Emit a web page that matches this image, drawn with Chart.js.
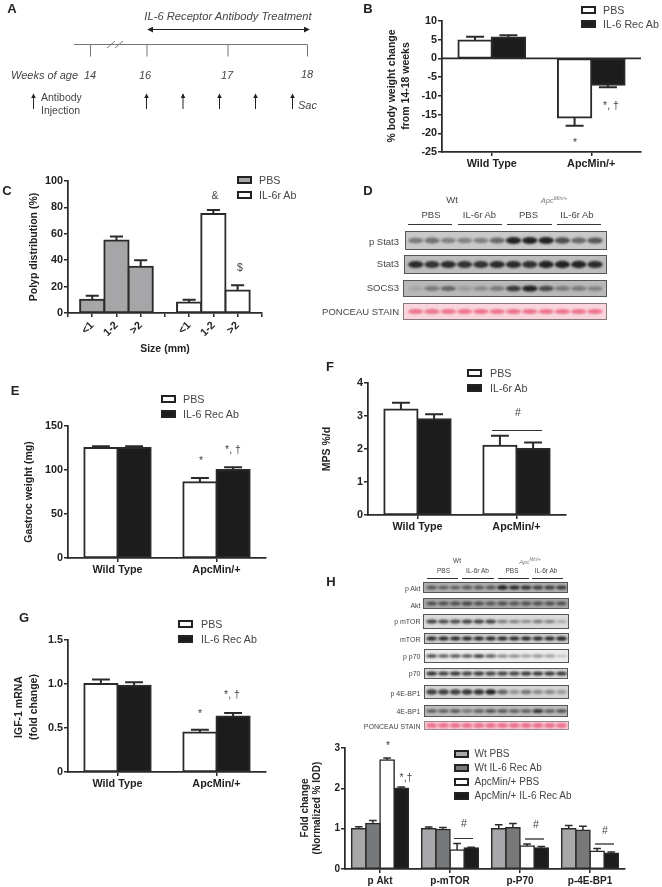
<!DOCTYPE html>
<html>
<head>
<meta charset="utf-8">
<title>IL-6 receptor antibody figure</title>
<script src="https://cdn.jsdelivr.net/npm/chart.js@4/dist/chart.umd.min.js"></script>
<style>
html, body { margin: 0; background: #fff; }
#page { position: relative; width: 662px; height: 887px; overflow: hidden; background: #fff;
  font-family: "Liberation Sans", Arial, sans-serif; color: #444; filter: blur(0.45px); }
#page canvas { position: absolute; }
#page svg { position: absolute; left: 0; top: 0; }
.t { position: absolute; white-space: nowrap; line-height: 1; }
.swatch { position: absolute; box-sizing: border-box; width: 15px; height: 8px; border: 2px solid #222; }
.rule { position: absolute; height: 1.5px; background: #333; }
</style>
</head>
<body>
<div id="page">
<svg width="662" height="120">
  <defs>
    <marker id="head" viewBox="0 0 8 8" refX="7" refY="4" markerWidth="5" markerHeight="5" orient="auto-start-reverse">
      <path d="M0 0 L8 4 L0 8 Z" fill="#222"/>
    </marker>
  </defs>
  <g stroke="#777" stroke-width="1" fill="none">
    <path d="M74 44.5 H307.5"/>
    <path d="M90.5 44.5 V56.5 M147 44.5 V56.5 M228 44.5 V56.5 M307.5 44.5 V56.5"/>
    <path d="M107 48 L115 41 M115 48 L123 41"/>
  </g>
  <path d="M148 29.5 H309" stroke="#222" stroke-width="1.2" marker-start="url(#head)" marker-end="url(#head)"/>
  <g stroke="#222" stroke-width="1" marker-start="none">
    <path d="M33.5 109 V94" marker-end="url(#head)"/>
    <path d="M146.5 109 V94" marker-end="url(#head)"/>
    <path d="M183 109 V94" marker-end="url(#head)"/>
    <path d="M219.5 109 V94" marker-end="url(#head)"/>
    <path d="M255.5 109 V94" marker-end="url(#head)"/>
    <path d="M292.5 109 V94" marker-end="url(#head)"/>
  </g>
</svg>
</div>
<script>
// panel B
const groups = ['Wild Type', 'ApcMin/+'];
const bodyPBS = [4.8, -15.8];
const bodyPBSErr = [5.8, -18];
const bodyAb = [5.6, -7];
const bodyAbErr = [6.2, -7.7];
// panel C
const sizes = ['', '<1', '1-2', '>2', '', '<1', '1-2', '>2', ''];
const polypPBS = [null, 10, 55, 35, null, null, null, null, null];
const polypPBSErr = [null, 13, 58, 40, null, null, null, null, null];
const polypAb = [null, null, null, null, null, 8, 75, 17, null];
const polypAbErr = [null, null, null, null, null, 10, 78, 21, null];
// panel E
const gastrocPBS = [125, 86];
const gastrocPBSErr = [127, 91];
const gastrocAb = [125, 100];
const gastrocAbErr = [127, 103];
// panel F
const mpsPBS = [3.2, 2.1];
const mpsPBSErr = [3.4, 2.4];
const mpsAb = [2.9, 2.0];
const mpsAbErr = [3.05, 2.2];
// panel G
const igfPBS = [1.0, 0.45];
const igfPBSErr = [1.05, 0.48];
const igfAb = [0.98, 0.63];
const igfAbErr = [1.02, 0.67];
// panel H
const proteins = ['p Akt', 'p-mTOR', 'p-P70', 'p-4E-BP1'];
const foldWtPBS = [1.0, 1.0, 1.0, 1.0];
const foldWtPBSErr = [1.05, 1.04, 1.1, 1.08];
const foldWtAb = [1.13, 0.98, 1.02, 0.96];
const foldWtAbErr = [1.2, 1.03, 1.13, 1.06];
const foldApcPBS = [2.7, 0.47, 0.57, 0.44];
const foldApcPBSErr = [2.75, 0.63, 0.62, 0.51];
const foldApcAb = [2.0, 0.52, 0.52, 0.39];
const foldApcAbErr = [2.03, 0.54, 0.56, 0.42];
// blot band strength per lane
const dStat3p = [.45, .5, .4, .4, .4, .55, .95, .95, .95, .7, .55, .65];
const dStat3 = [.9, .85, .9, .85, .85, .9, .9, .85, .95, .95, .95, .9];
const dSocs3 = [.12, .4, .55, .2, .3, .4, .8, .95, .7, .4, .4, .35];
const dPonceau = [.75, .75, .75, .75, .75, .75, .75, .75, .75, .75, .75, .75];
const hAktP = [.6, .55, .55, .6, .6, .6, .95, .9, .85, .75, .75, .8];
const hAkt = [.65, .65, .65, .7, .65, .6, .65, .6, .65, .65, .65, .65];
const hMtorP = [.8, .75, .75, .8, .8, .8, .5, .45, .4, .5, .45, .25];
const hMtor = [.95, .95, .95, .95, .95, .95, .95, .95, .95, .95, .95, .98];
const hP70P = [.8, .7, .75, .75, .85, .7, .5, .5, .4, .45, .4, .2];
const hP70 = [.9, .8, .85, .8, .85, .8, .8, .8, .85, .85, .85, .85];
const hEbpP = [.8, .8, .8, .85, .85, .95, .6, .35, .5, .4, .4, .3];
const hEbp = [.6, .6, .65, .45, .6, .7, .65, .6, .6, .85, .6, .7];

const page = document.getElementById('page');
const dark = '#2a2a2a';

function text(str, x, y, o) {
    o = o || {};
    const el = document.createElement('div');
    el.className = 't';
    if (o.html) el.innerHTML = str; else el.textContent = str;
    el.style.left = x + 'px';
    el.style.top = y + 'px';
    el.style.fontSize = (o.size || 10.5) + 'px';
    if (o.bold) el.style.fontWeight = 'bold';
    if (o.italic) el.style.fontStyle = 'italic';
    el.style.color = o.color || (o.bold ? '#222' : '#444');
    const ax = o.align === 'l' ? '0' : o.align === 'r' ? '-100%' : '-50%';
    el.style.transform = 'translate(' + ax + ',-50%)' + (o.rotate ? ' rotate(-90deg)' : '');
    page.appendChild(el);
}

function legend(x, ys, textX, items, size) {
    items.forEach((item, i) => {
        const s = document.createElement('div');
        s.className = 'swatch';
        s.style.left = x + 'px';
        s.style.top = (ys[i] - 4) + 'px';
        s.style.background = item[1];
        page.appendChild(s);
        text(item[0], textX, ys[i], { align: 'l', size: size });
    });
}

function rule(x0, x1, y, color) {
    const r = document.createElement('div');
    r.className = 'rule';
    r.style.left = x0 + 'px';
    r.style.width = (x1 - x0) + 'px';
    r.style.top = y + 'px';
    if (color) r.style.background = color;
    page.appendChild(r);
}

// error bars go from the bar top to the value in dataset.err
const errorBars = {
    id: 'errorBars',
    afterDatasetsDraw(chart) {
        const ctx = chart.ctx;
        const yScale = chart.scales.y;
        chart.data.datasets.forEach((ds, d) => {
            chart.getDatasetMeta(d).data.forEach((bar, i) => {
                if (ds.data[i] === null) return;
                const y0 = yScale.getPixelForValue(ds.data[i]);
                const y1 = yScale.getPixelForValue(ds.err[i]);
                const cap = bar.width * 0.27;
                ctx.save();
                ctx.strokeStyle = dark;
                ctx.lineWidth = ds.borderWidth;
                ctx.beginPath();
                ctx.moveTo(bar.x, y0);
                ctx.lineTo(bar.x, y1);
                ctx.moveTo(bar.x - cap, y1);
                ctx.lineTo(bar.x + cap, y1);
                ctx.stroke();
                ctx.restore();
            });
        });
    }
};

// the horizontal line at 0 in panel B
const zeroLine = {
    id: 'zeroLine',
    afterDatasetsDraw(chart) {
        if (chart.scales.y.min >= 0) return;
        const ctx = chart.ctx;
        const y = chart.scales.y.getPixelForValue(0);
        ctx.save();
        ctx.strokeStyle = dark;
        ctx.lineWidth = 1.75;
        ctx.beginPath();
        ctx.moveTo(chart.chartArea.left, y);
        ctx.lineTo(chart.chartArea.right, y);
        ctx.stroke();
        ctx.restore();
    }
};

function series(label, data, err, color, lw) {
    return {
        label: label, data: data, err: err,
        backgroundColor: color, borderColor: dark,
        borderWidth: lw || 2, borderSkipped: false, inflateAmount: (lw || 2) / 2
    };
}

function barChart(plot, labels, datasets, y, o) {
    o = o || {};
    const gutterL = 36, gutterT = 8, gutterR = 8, gutterB = o.gutterB || 22;
    const canvas = document.createElement('canvas');
    canvas.width = plot[2] - plot[0] + gutterL + gutterR;
    canvas.height = plot[3] - plot[1] + gutterT + gutterB;
    canvas.style.left = (plot[0] - gutterL) + 'px';
    canvas.style.top = (plot[1] - gutterT) + 'px';
    page.appendChild(canvas);
    const size = o.fontSize || 10.8;
    return new Chart(canvas.getContext('2d'), {
        type: 'bar',
        data: { labels: labels, datasets: datasets },
        plugins: [zeroLine, errorBars],
        options: {
            responsive: false,
            animation: false,
            events: [],
            devicePixelRatio: 1,
            layout: { padding: { top: gutterT, right: gutterR, left: 0, bottom: 0 } },
            plugins: { legend: { display: false }, tooltip: { enabled: false } },
            datasets: { bar: { categoryPercentage: o.catPct || 0.67, barPercentage: 1 } },
            scales: {
                x: {
                    stacked: !!o.stacked,
                    offset: o.offset !== false,
                    afterFit: s => { s.height = gutterB; },
                    border: { color: dark, width: 1.75 },
                    grid: { offset: false, drawOnChartArea: false, color: dark, lineWidth: 1.5, tickLength: 4 },
                    ticks: {
                        autoSkip: false, padding: 2, color: '#222',
                        maxRotation: o.rotate || 0, minRotation: o.rotate || 0,
                        font: { family: 'Liberation Sans', weight: 'bold', size: size }
                    }
                },
                y: {
                    stacked: !!o.stacked,
                    min: y[0], max: y[1],
                    afterFit: s => { s.width = gutterL; },
                    border: { color: dark, width: 1.75 },
                    grid: { drawOnChartArea: false, color: dark, lineWidth: 1.5, tickLength: 4 },
                    ticks: {
                        stepSize: y[2], padding: 1, color: '#222',
                        font: { family: 'Liberation Sans', weight: 'bold', size: size }
                    }
                }
            }
        }
    });
}

/* Panel B */
barChart([442, 21, 641, 152], groups, [
    series('PBS', bodyPBS, bodyPBSErr, '#fff'),
    series('IL-6 Rec Ab', bodyAb, bodyAbErr, '#1c1c1c')
], [-25, 10, 5]);
/* Panel C */
barChart([68, 181, 265, 313], sizes, [
    series('PBS', polypPBS, polypPBSErr, '#a6a6a8'),
    series('IL-6r Ab', polypAb, polypAbErr, '#fff')
], [0, 100, 20], { stacked: true, offset: false, catPct: 1, rotate: 45, gutterB: 34 });
/* Panel E */
barChart([68, 426, 266, 558], groups, [
    series('PBS', gastrocPBS, gastrocPBSErr, '#fff'),
    series('IL-6 Rec Ab', gastrocAb, gastrocAbErr, '#1c1c1c')
], [0, 150, 50]);
/* Panel F */
barChart([368, 383, 566, 515], groups, [
    series('PBS', mpsPBS, mpsPBSErr, '#fff'),
    series('IL-6r Ab', mpsAb, mpsAbErr, '#1c1c1c')
], [0, 4, 1]);
/* Panel G */
barChart([68, 640, 266, 772], groups, [
    series('PBS', igfPBS, igfPBSErr, '#fff'),
    series('IL-6 Rec Ab', igfAb, igfAbErr, '#1c1c1c')
], [0, 1.5, 0.5]);
/* Panel H */
barChart([345, 748, 625, 869], proteins, [
    series('Wt PBS', foldWtPBS, foldWtPBSErr, '#a8a8aa', 1.5),
    series('Wt IL-6 Rec Ab', foldWtAb, foldWtAbErr, '#77787a', 1.5),
    series('ApcMin/+ PBS', foldApcPBS, foldApcPBSErr, '#fff', 1.5),
    series('ApcMin/+ IL-6 Rec Ab', foldApcAb, foldApcAbErr, '#1c1c1c', 1.5)
], [0, 3, 1], { catPct: 0.81, fontSize: 10 });

/* Blots, not data charts: plain canvas with blurred bands */
const blotCanvas = document.createElement('canvas');
blotCanvas.width = 662;
blotCanvas.height = 887;
blotCanvas.style.left = '0';
blotCanvas.style.top = '0';
page.appendChild(blotCanvas);
const bctx = blotCanvas.getContext('2d');

function blot(x0, x1, y0, y1, bands, lane0, laneStep, o) {
    o = o || {};
    bctx.fillStyle = o.bg || '#cfcfcf';
    bctx.fillRect(x0, y0, x1 - x0, y1 - y0);
    bctx.save();
    bctx.beginPath();
    bctx.rect(x0, y0, x1 - x0, y1 - y0);
    bctx.clip();
    bctx.filter = 'blur(' + (o.blur || 1) + 'px)';
    bands.forEach((b, i) => {
        const cx = lane0 + i * laneStep;
        const cy = (y0 + y1) / 2 + (o.dy || 0);
        bctx.fillStyle = o.pink ? 'rgba(232,80,115,' + b + ')' : 'rgba(25,25,28,' + b + ')';
        bctx.beginPath();
        bctx.ellipse(cx, cy, laneStep * 0.47, (o.h || 3) * (0.7 + b * 0.4), 0, 0, Math.PI * 2);
        bctx.fill();
    });
    bctx.restore();
    bctx.strokeStyle = o.edge || '#555';
    bctx.lineWidth = 1;
    bctx.strokeRect(x0 + 0.5, y0 + 0.5, x1 - x0 - 1, y1 - y0 - 1);
}

blot(405, 607, 231, 250, dStat3p, 415.7, 16.3, { bg: '#c9c9c9', h: 3.2 });
blot(404, 607, 255, 274, dStat3, 415.7, 16.3, { bg: '#bdbdbd', h: 3.4 });
blot(403, 607, 280, 297, dSocs3, 415.7, 16.3, { bg: '#b8b8b8', h: 2.8 });
blot(403, 607, 303, 320, dPonceau, 415.7, 16.3, { bg: '#f9d6dd', pink: true, h: 2.4, edge: '#8a7a7c' });

blot(423, 568, 582, 593, hAktP, 431.7, 11.8, { bg: '#b0b0b0', h: 2 });
blot(423, 569, 598, 609, hAkt, 431.7, 11.8, { bg: '#a8a8a8', h: 2 });
blot(423, 569, 614, 629, hMtorP, 431.7, 11.8, { bg: '#dadada', h: 2 });
blot(424, 569, 633, 644, hMtor, 431.7, 11.8, { bg: '#cdcdcd', h: 1.8 });
blot(424, 569, 649, 663, hP70P, 431.7, 11.8, { bg: '#ececec', h: 1.7 });
blot(424, 568, 668, 679, hP70, 431.7, 11.8, { bg: '#dadada', h: 2 });
blot(424, 569, 685, 699, hEbpP, 431.7, 11.8, { bg: '#d5d5d5', h: 2.6 });
blot(424, 568, 705, 717, hEbp, 431.7, 11.8, { bg: '#bcbcbc', h: 1.9 });
blot(424, 569, 721, 730, dPonceau, 431.7, 11.8, { bg: '#f8cdd6', pink: true, h: 2.4, edge: '#9a8a8c' });

/* Panel letters */
text('A', 12, 8, { bold: true, size: 13 });
text('B', 368, 8, { bold: true, size: 13 });
text('C', 7, 190, { bold: true, size: 13 });
text('D', 368, 190, { bold: true, size: 13 });
text('E', 15, 390, { bold: true, size: 13 });
text('F', 330, 366, { bold: true, size: 13 });
text('G', 24, 617, { bold: true, size: 13 });
text('H', 331, 581, { bold: true, size: 13 });

/* Panel A text */
text('IL-6 Receptor Antibody Treatment', 228, 17, { italic: true, size: 11.2 });
text('Weeks of age', 11, 75, { italic: true, align: 'l', size: 11 });
text('14', 90, 75, { italic: true, size: 11 });
text('16', 145, 75, { italic: true, size: 11 });
text('17', 227, 75, { italic: true, size: 11 });
text('18', 307, 74, { italic: true, size: 11 });
text('Antibody', 41, 97, { align: 'l' });
text('Injection', 41, 110, { align: 'l' });
text('Sac', 298, 105, { italic: true, align: 'l', size: 11 });

/* Panel B text */
legend(581, [9.5, 24], 603, [['PBS', '#fff'], ['IL-6 Rec Ab', '#1c1c1c']], 10.7);
text('% body weight change', 391, 86, { bold: true, rotate: true });
text('from 14-18 weeks', 405, 86, { bold: true, rotate: true });
text('*', 575, 142);
text('*, †', 611, 105);

/* Panel C text */
legend(237, [180, 194.5], 259, [['PBS', '#a6a6a8'], ['IL-6r Ab', '#fff']], 10.7);
text('Polyp distribution (%)', 33, 247, { bold: true, rotate: true });
text('Size (mm)', 165, 348, { bold: true });
text('&', 215, 195);
text('$', 240, 267);

/* Panel D text */
text('Wt', 452, 200, { size: 9.5 });
text('Apc<sup style="font-size:5.5px">Min/+</sup>', 554, 200, { size: 7.5, italic: true, html: true, color: '#777' });
[[431, 'PBS'], [479.5, 'IL-6r Ab'], [528.5, 'PBS'], [577, 'IL-6r Ab']].forEach(h => text(h[1], h[0], 214.5, { size: 9.5 }));
rule(408, 452, 223.5);
rule(457.5, 502, 223.5);
rule(507, 552, 223.5);
rule(557, 601, 223.5);
[['p Stat3', 241.5], ['Stat3', 263.5], ['SOCS3', 288], ['PONCEAU STAIN', 312]].forEach(l => text(l[0], 399, l[1], { size: 9.5, align: 'r' }));

/* Panel E text */
legend(161, [399, 414], 183, [['PBS', '#fff'], ['IL-6 Rec Ab', '#1c1c1c']], 10.7);
text('Gastroc weight (mg)', 28, 492, { bold: true, rotate: true });
text('*', 201, 460);
text('*, †', 233, 449);

/* Panel F text */
legend(467, [373, 388], 490, [['PBS', '#fff'], ['IL-6r Ab', '#1c1c1c']], 10.7);
text('MPS %/d', 326, 449, { bold: true, rotate: true });
text('#', 518, 412);
rule(492, 542, 429.5);

/* Panel G text */
legend(178, [624, 639], 201, [['PBS', '#fff'], ['IL-6 Rec Ab', '#1c1c1c']], 10.7);
text('IGF-1 mRNA', 18, 707, { bold: true, rotate: true });
text('(fold change)', 33, 707, { bold: true, rotate: true });
text('*', 200, 713);
text('*, †', 232, 694);

/* Panel H text */
text('Wt', 457, 561, { size: 6.5 });
text('Apc<sup style="font-size:4.5px">Min/+</sup>', 530, 561, { size: 6, italic: true, html: true, color: '#777' });
[[443.5, 'PBS'], [477.5, 'IL-6r Ab'], [512, 'PBS'], [546, 'IL-6r Ab']].forEach(h => text(h[1], h[0], 571, { size: 6.5 }));
rule(427, 458, 577.5);
rule(462, 494, 577.5);
rule(498, 529, 577.5);
rule(532, 563, 577.5);
[['p Akt', 587.5], ['Akt', 604.5], ['p mTOR', 621], ['mTOR', 638.5], ['p p70', 655.5], ['p70', 672.5], ['p 4E-BP1', 692.5], ['4E-BP1', 711], ['PONCEAU STAIN', 726]].forEach(l => text(l[0], 420.5, l[1], { size: 7, align: 'r' }));

legend(454, [754, 768, 782, 796], 474.5, [['Wt PBS', '#a8a8aa'], ['Wt IL-6 Rec Ab', '#77787a'], ['ApcMin/+ PBS', '#fff'], ['ApcMin/+ IL-6 Rec Ab', '#1c1c1c']], 10);
text('Fold change', 305, 808, { bold: true, rotate: true, size: 10 });
text('(Normalized %  IOD)', 317, 808, { bold: true, rotate: true, size: 10 });
text('*', 388, 745);
text('*,†', 406, 777);
text('#', 464, 823);
text('#', 536, 824);
text('#', 605, 830);
rule(454, 473, 837.5);
rule(525, 544, 838, '#777');
rule(595, 614, 843, '#777');
</script>
</body>
</html>
